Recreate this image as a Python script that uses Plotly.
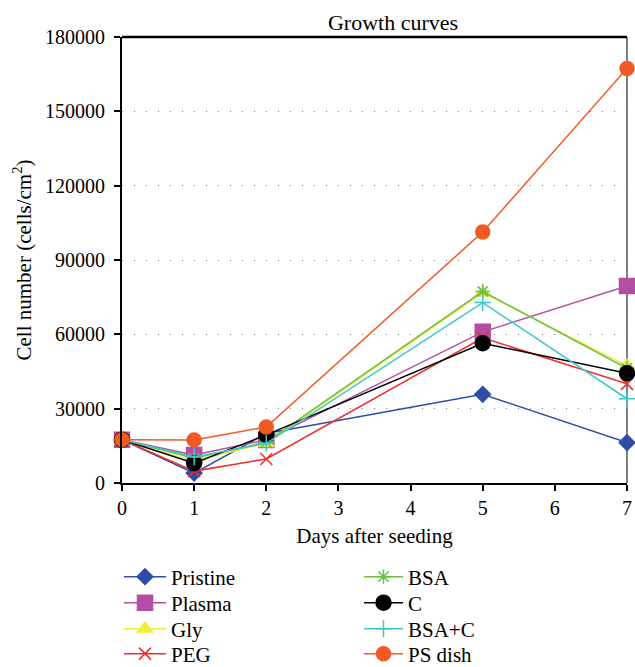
import plotly.graph_objects as go

days = [0, 1, 2, 5, 7]
series_names = ["Pristine", "Plasma", "Gly", "PEG", "BSA", "C", "BSA+C", "PS dish"]
pristine = [17500, 4000, 20000, 35800, 16300]
plasma = [17500, 11300, 17400, 61000, 79500]
gly = [17000, 9000, 16000, 76800, 47300]
peg = [17500, 4800, 9700, 58600, 40000]
bsa = [17500, 10000, 16500, 77300, 46300]
c_vals = [17500, 8000, 19400, 56400, 44300]
bsa_c = [17500, 10500, 16000, 72800, 34000]
ps_dish = [17500, 17400, 22600, 101300, 167300]

values = [pristine, plasma, gly, peg, bsa, c_vals, bsa_c, ps_dish]
colors = ["#2E4DA7", "#B24FA3", "#EDED3A", "#EE2D2D", "#6CBE45", "#000000", "#3EC7CB", "#F15A24"]
symbols = ["diamond", "square", "triangle-up", "x-thin-open", "asterisk-open", "circle", "cross-thin-open", "circle"]
sizes = [12, 15, 13, 12, 12, 15, 12, 14]

y_ticks = [0, 30000, 60000, 90000, 120000, 150000, 180000]
x_ticks = [0, 1, 2, 3, 4, 5, 6, 7]

FONT = "Liberation Serif"

# plot area in pixels (for legend placement)
PL, PR, PT, PB = 122, 627, 37, 483
W, H = PR - PL, PB - PT

def px_x(p):
    return (p - PL) / W

def px_y(p):
    return (PB - p) / H

row_y = [577, 603, 629, 654]
col_x = [119, 359]
col_itemwidth = [42, 39]

fig = go.Figure()
layout_legends = {}
for i, (name, vals) in enumerate(zip(series_names, values)):
    key = "legend" if i == 0 else f"legend{i + 1}"
    fig.add_trace(go.Scatter(
        x=days, y=vals, name=name, mode="lines+markers",
        line=dict(color=colors[i], width=1.5),
        marker=dict(symbol=symbols[i], size=sizes[i], color=colors[i],
                    line=dict(color=colors[i], width=1.5)),
        legend=key, cliponaxis=False,
    ))
    col, row = divmod(i, 4)
    layout_legends[key] = dict(
        x=px_x(col_x[col]), y=px_y(row_y[row]),
        xanchor="left", yanchor="middle",
        font=dict(family=FONT, size=21, color="#000"),
        bgcolor="rgba(0,0,0,0)", borderwidth=0,
        itemwidth=col_itemwidth[col],
    )

fig.update_layout(
    width=635, height=667,
    margin=dict(l=PL, r=635 - PR, t=PT, b=667 - PB, autoexpand=False),
    paper_bgcolor="white", plot_bgcolor="white",
    font=dict(family=FONT, size=19, color="#000"),
    title=dict(text="Growth curves", x=0.619, xanchor="center", y=1 - 22 / 667, yanchor="middle",
               font=dict(family=FONT, size=22, color="#000")),
    showlegend=True,
    xaxis=dict(
        range=[0, 7], tickvals=x_ticks, ticks="outside", ticklen=6, tickwidth=1.5,
        tickcolor="#000", showline=True, linecolor="#000", linewidth=2,
        showgrid=False, zeroline=False, automargin=False,
        title=dict(text="Days after seeding", standoff=10, font=dict(size=21)),
        tickfont=dict(family=FONT, size=20),
    ),
    yaxis=dict(
        range=[0, 180000], tickvals=y_ticks, ticks="outside", ticklen=6, tickwidth=1.5,
        tickcolor="#000", showline=True, linecolor="#000", linewidth=2,
        showgrid=True, gridcolor="#777", gridwidth=1.3, griddash="1px,11px",
        zeroline=False, tickformat="d", automargin=False, ticklabelstandoff=5,
        title=dict(text="Cell number (cells/cm<sup>2</sup>)", standoff=8, font=dict(size=21)),
        tickfont=dict(family=FONT, size=20),
    ),
    shapes=[
        dict(type="line", xref="paper", yref="paper", x0=0, x1=1, y0=1, y1=1,
             line=dict(color="#000", width=2.5), layer="above"),
        dict(type="line", xref="paper", yref="paper", x0=1, x1=1, y0=0, y1=1,
             line=dict(color="#555", width=1.5), layer="below"),
    ],
    **layout_legends,
)

fig.write_html(
    "out.html",
    config={"displayModeBar": False},
    post_script="document.body.style.margin='0';document.body.style.overflow='hidden';",
)
